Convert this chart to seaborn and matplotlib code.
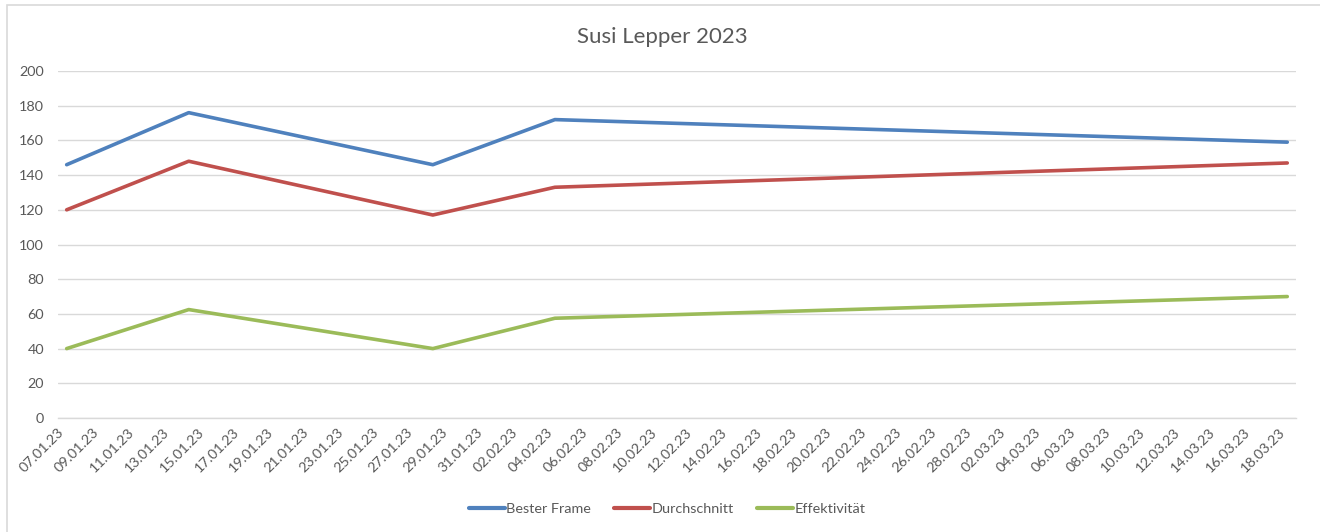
import pandas as pd
import matplotlib.pyplot as plt
import matplotlib.dates as mdates
from matplotlib.patches import Rectangle
import seaborn as sns

# === DATA ===
dates = ["07.01.23", "14.01.23", "28.01.23", "04.02.23", "18.03.23"]
bester_frame = [146, 176, 146, 172, 159]
durchschnitt = [120, 148, 117, 133, 147]
effektivitaet = [40, 62.5, 40, 57.5, 70]

series_names = ["Bester Frame", "Durchschnitt", "Effektivität"]
colors = ["#4F81BD", "#C0504D", "#9BBB59"]

# long format for seaborn
date_idx = pd.to_datetime(dates, format="%d.%m.%y")
df = pd.concat([
    pd.DataFrame({"Datum": date_idx, "Wert": vals, "Serie": name})
    for name, vals in zip(series_names, [bester_frame, durchschnitt, effektivitaet])
])
# Excel date axis: points sit in the middle of each day slot
df["x"] = df["Datum"] + pd.Timedelta(hours=12)

# === PLOT ===
sns.set_style("white")
plt.rcParams["font.family"] = ["Lato", "DejaVu Sans"]
grey = "#595959"
fs = 10.4

fig = plt.figure(figsize=(13.2, 5.32), dpi=100)
ax = fig.add_axes([0.0439, 0.2143, 0.9379, 0.6522])

sns.lineplot(data=df, x="x", y="Wert", hue="Serie", palette=colors,
             linewidth=2.6, ax=ax, legend=True)

start = date_idx.min()
end = date_idx.max() + pd.Timedelta(days=1)
ax.set_xlim(start, end)
ax.set_ylim(0, 200)
ax.set_yticks(range(0, 201, 20))
ticks = pd.date_range(date_idx.min(), date_idx.max(), freq="2D")
ax.set_xticks(ticks)
ax.xaxis.set_major_formatter(mdates.DateFormatter("%d.%m.%y"))
ax.grid(axis="y", color="#d9d9d9", linewidth=1)
for s in ["left", "right", "top"]:
    ax.spines[s].set_visible(False)
ax.spines["bottom"].set_color("#d9d9d9")
ax.spines["bottom"].set_linewidth(1)
ax.tick_params(axis="x", direction="out", length=4, color="#d9d9d9",
               labelsize=fs, labelcolor=grey, pad=2)
ax.tick_params(axis="y", length=0, labelsize=fs, labelcolor=grey, pad=10)
for lbl in ax.get_xticklabels():
    lbl.set_rotation(45)
    lbl.set_ha("right")
    lbl.set_va("top")
    lbl.set_rotation_mode("anchor")
ax.set_xlabel("")
ax.set_ylabel("")

fig.text(0.5015, 0.931, "Susi Lepper 2023", ha="center", va="center",
         fontsize=16, color=grey)

leg = ax.legend(loc="center", frameon=False, ncol=3, fontsize=fs,
                handlelength=2.5, handletextpad=0.1, columnspacing=1.6)
leg.set_bbox_to_anchor((0.5055, 0.043), transform=fig.transFigure)
for t in leg.get_texts():
    t.set_color(grey)
for h in leg.get_lines():
    h.set_linewidth(3)

# chart area border (left and top visible)
fig.patches.append(Rectangle((0.0053, -0.1), 1.2, 1.0906, transform=fig.transFigure,
                             fill=False, edgecolor="#d9d9d9", linewidth=1.2))

fig.savefig("out.png", dpi=100)
